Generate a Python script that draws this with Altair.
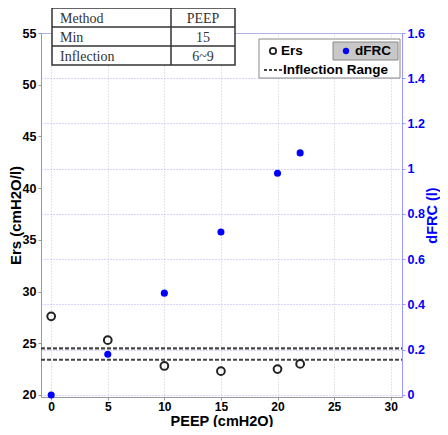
import altair as alt
import pandas as pd

# ---- data ----
peep = [0, 5, 10, 15, 20, 22]
ers = [27.6, 25.3, 22.8, 22.3, 22.5, 23.0]
dfrc = [0.0, 0.18, 0.45, 0.72, 0.98, 1.07]
inflection_lines = [24.5, 23.4]
x_ticks = [0, 5, 10, 15, 20, 25, 30]
ers_ticks = [20, 25, 30, 35, 40, 45, 50, 55]
dfrc_ticks = [0, 0.2, 0.4, 0.6, 0.8, 1.0, 1.2, 1.4, 1.6]
table_header = ["Method", "PEEP"]
table_rows = [["Min", "15"], ["Inflection", "6~9"]]
legend_labels = ["Ers", "dFRC", "Inflection Range"]

# ---- layout ----
W, H = 361, 364
x_dom = [-0.9, 31]
ers_dom = [19.8, 55]
dfrc_dom = [(ers_dom[0] - 20) * 1.6 / 35, 1.6]
SANS = "Liberation Sans"
SERIF = "Liberation Serif"

df = pd.DataFrame({"peep": peep, "ers": ers, "dfrc": dfrc})
lines_df = pd.DataFrame({"v": inflection_lines})
one = pd.DataFrame({"a": [0]})

xenc = alt.X(
    "peep:Q",
    scale=alt.Scale(domain=x_dom, nice=False, zero=False),
    axis=alt.Axis(
        values=x_ticks, title="PEEP (cmH2O)", grid=True, gridColor="#c8c8c8",
        gridDash=[1, 2], domainColor="#999999", tickColor="#999999", tickSize=3,
        labelPadding=1, labelFont=SANS, labelFontWeight="bold", labelFontSize=12,
        labelColor="black", titleFont=SANS, titleFontWeight="bold", titleFontSize=14.5,
        titleColor="black", titleBaseline="alphabetic", titleY=28,
    ),
)
ers_scale = alt.Scale(domain=ers_dom, nice=False, zero=False)

rules = alt.Chart(lines_df).mark_rule(
    color="#444444", strokeWidth=2.2, strokeDash=[4, 2]
).encode(
    y=alt.Y("v:Q", scale=ers_scale, axis=None),
    x=alt.value(0), x2=alt.value(W),
)

ers_pts = alt.Chart(df).mark_point(
    shape="circle", filled=False, color="#222222", size=60, strokeWidth=2, opacity=1
).encode(
    x=xenc,
    y=alt.Y(
        "ers:Q", scale=ers_scale,
        axis=alt.Axis(
            values=ers_ticks, title="Ers (cmH2O/l)", grid=False, orient="left",
            domainColor="#999999", tickColor="#999999", tickSize=3, labelPadding=2,
            labelFont=SANS, labelFontWeight="bold", labelFontSize=12.5, labelColor="black",
            titleFont=SANS, titleFontWeight="bold", titleFontSize=15, titleColor="black",
            titleBaseline="bottom", titleX=-18,
        ),
    ),
)

dfrc_pts = alt.Chart(df).mark_circle(color="#0000ff", size=50, opacity=1).encode(
    x=alt.X("peep:Q", scale=alt.Scale(domain=x_dom, nice=False, zero=False)),
    y=alt.Y(
        "dfrc:Q", scale=alt.Scale(domain=dfrc_dom, nice=False, zero=False),
        axis=alt.Axis(
            values=dfrc_ticks, format="~g", title="dFRC (l)", orient="right", grid=True,
            gridColor="#aaaaff", gridDash=[1, 2], domainColor="#9999ff", tickColor="#9999ff",
            tickSize=3, labelPadding=2, labelFont=SANS, labelFontWeight="bold",
            labelFontSize=12.5, labelColor="#0000ff", titleFont=SANS, titleFontWeight="bold",
            titleFontSize=14.5, titleColor="#0000ff", titleAngle=270,
            titleBaseline="top", titleX=23,
        ),
    ),
)

# ---- legend (plot-pixel positions) ----
ann = []
ann.append(alt.Chart(one).mark_rect(fill="white", stroke="#888888", strokeWidth=1).encode(
    x=alt.value(218), x2=alt.value(359), y=alt.value(6), y2=alt.value(45)))
ann.append(alt.Chart(one).mark_rect(fill="#c8c8c8", stroke="#888888", strokeWidth=1).encode(
    x=alt.value(292), x2=alt.value(357), y=alt.value(9), y2=alt.value(27)))
ann.append(alt.Chart(one).mark_point(shape="circle", filled=False, color="#222222", size=40,
                                     strokeWidth=1.8, opacity=1).encode(
    x=alt.value(232), y=alt.value(18)))
ann.append(alt.Chart(one).mark_circle(color="#0000ff", size=40, opacity=1).encode(
    x=alt.value(305), y=alt.value(18)))
ann.append(alt.Chart(one).mark_rule(color="#444444", strokeWidth=2, strokeDash=[3, 2]).encode(
    x=alt.value(223), x2=alt.value(241), y=alt.value(37)))
for lbl, px, py in zip(legend_labels, [240, 314, 242], [18, 18, 37]):
    ann.append(alt.Chart(one).mark_text(
        align="left", baseline="middle", font=SANS, fontWeight="bold", fontSize=13.5,
        color="black").encode(x=alt.value(px), y=alt.value(py), text=alt.value(lbl)))

# ---- table (plot-pixel positions) ----
tx0, tx1, tx2 = 11, 130, 194
row_y = [-25, -6, 13, 32]
ann.append(alt.Chart(one).mark_rect(fill="white", stroke="#333333", strokeWidth=1.5).encode(
    x=alt.value(tx0), x2=alt.value(tx2), y=alt.value(row_y[0]), y2=alt.value(row_y[-1])))
for ry in row_y[1:-1]:
    ann.append(alt.Chart(one).mark_rule(color="#333333", strokeWidth=1.5).encode(
        x=alt.value(tx0), x2=alt.value(tx2), y=alt.value(ry)))
ann.append(alt.Chart(one).mark_rule(color="#333333", strokeWidth=1.5).encode(
    x=alt.value(tx1), y=alt.value(row_y[0]), y2=alt.value(row_y[-1])))
all_rows = [table_header] + table_rows
for i, (c1, c2) in enumerate(all_rows):
    cy = (row_y[i] + row_y[i + 1]) / 2 + 1
    ann.append(alt.Chart(one).mark_text(
        align="left", baseline="middle", font=SERIF, fontSize=14, color="#333333").encode(
        x=alt.value(tx0 + 8), y=alt.value(cy), text=alt.value(c1)))
    ann.append(alt.Chart(one).mark_text(
        align="center", baseline="middle", font=SERIF, fontSize=14, color="#333333").encode(
        x=alt.value((tx1 + tx2) / 2), y=alt.value(cy), text=alt.value(c2)))

chart = alt.layer(rules, ers_pts, dfrc_pts, *ann).resolve_scale(
    y="independent"
).properties(
    width=W, height=H,
    autosize=alt.AutoSizeParams(type="none"),
    padding={"left": 33, "top": 25, "right": 38, "bottom": 30},
    background="white",
).configure_view(stroke="#b8b8e0", strokeWidth=1)

chart.save("out.html", embed_options={"renderer": "svg", "actions": False})
